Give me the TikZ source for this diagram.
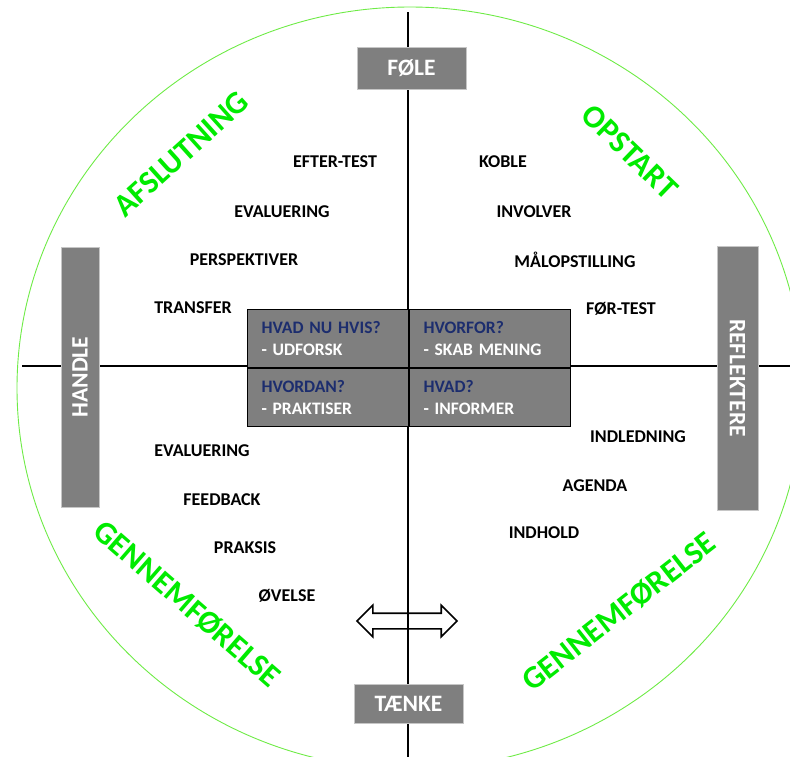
\documentclass[tikz,border=0pt]{standalone}
\usepackage{fontspec}
\setmainfont{Carlito}
\usetikzlibrary{shapes.arrows}
\definecolor{boxgray}{RGB}{127,127,127}
\definecolor{qblue}{RGB}{28,45,110}
\definecolor{phasegreen}{RGB}{0,235,0}
\definecolor{ringgreen}{RGB}{110,235,70}

\begin{document}
\begin{tikzpicture}[x=1pt, y=-1pt,
	axisline/.style={line width=1.6pt, black},
	ring/.style={draw=ringgreen, line width=0.9pt},
	pole/.style={fill=boxgray, draw=gray!45, text=white, inner sep=0pt, font=\fontsize{23.5}{23.5}\selectfont\bfseries},
	cell/.style={fill=boxgray, draw=black, line width=1pt, minimum width=161pt, minimum height=58pt, text width=133pt, inner xsep=14pt, align=left, text=white, font=\fontsize{17.5}{22}\selectfont\bfseries},
	word/.style={inner sep=0pt, font=\fontsize{18}{18}\selectfont\bfseries},
	phase/.style={text=phasegreen, inner sep=0pt, font=\fontsize{32}{32}\selectfont\bfseries}]
	\useasboundingbox (0,0) rectangle (790,756);
	\clip (0,0) rectangle (790,756);

	\draw[ring] (410,388) ellipse [x radius=393pt, y radius=381pt];

	\coordinate (north) at (408,12);
	\coordinate (south) at (408,760);
	\coordinate (west) at (22,366);
	\coordinate (east) at (795,366);
	\draw[axisline] (north) -- (south);
	\draw[axisline] (west) -- (east);

	\node[cell, anchor=south east] (whatif) at (409,368) {{\color{qblue}HVAD NU HVIS?}\\- UDFORSK};
	\node[cell, anchor=south west] (why) at (409,368) {{\color{qblue}HVORFOR?}\\- SKAB MENING};
	\node[cell, anchor=north east] (how) at (409,368) {{\color{qblue}HVORDAN?}\\- PRAKTISER};
	\node[cell, anchor=north west] (what) at (409,368) {{\color{qblue}HVAD?}\\- INFORMER};

	\node[pole, minimum width=109pt, minimum height=42pt] (feel) at (411.5,68) {FØLE};
	\node[pole, minimum width=109pt, minimum height=39pt] (think) at (408.5,703.5) {TÆNKE};
	\node[pole, rotate=90, minimum width=260pt, minimum height=38pt] (act) at (80,377) {HANDLE};
	\node[pole, rotate=-90, minimum width=264pt, minimum height=41pt] (reflect) at (737.5,378) {REFLEKTERE};

	\node[draw, double arrow, line width=1.6pt, minimum height=100pt, inner sep=7pt, double arrow head extend=8pt] (swap) at (407,621) {};

	\node[phase, rotate=42] (closing) at (181,154) {AFSLUTNING};
	\node[phase, rotate=-44] (start) at (630,152) {OPSTART};
	\node[phase, rotate=-41] (runleft) at (187,604) {GENNEMFØRELSE};
	\node[phase, rotate=38] (runright) at (619,612) {GENNEMFØRELSE};

	\node[word] (posttest) at (335,162) {EFTER-TEST};
	\node[word] (evalend) at (282,212) {EVALUERING};
	\node[word] (perspective) at (244,260) {PERSPEKTIVER};
	\node[word] (transfer) at (193,308) {TRANSFER};
	\node[word] (link) at (503,162) {KOBLE};
	\node[word] (involve) at (534,212) {INVOLVER};
	\node[word] (goals) at (575,260) {MÅLOPSTILLING};
	\node[word] (pretest) at (621,309) {FØR-TEST};
	\node[word] (intro) at (638,437) {INDLEDNING};
	\node[word] (agenda) at (595,486) {AGENDA};
	\node[word] (content) at (544,533) {INDHOLD};
	\node[word] (evalrun) at (202,451) {EVALUERING};
	\node[word] (feedback) at (222,500) {FEEDBACK};
	\node[word] (practice) at (245,548) {PRAKSIS};
	\node[word] (exercise) at (287,596) {ØVELSE};
\end{tikzpicture}
\end{document}
